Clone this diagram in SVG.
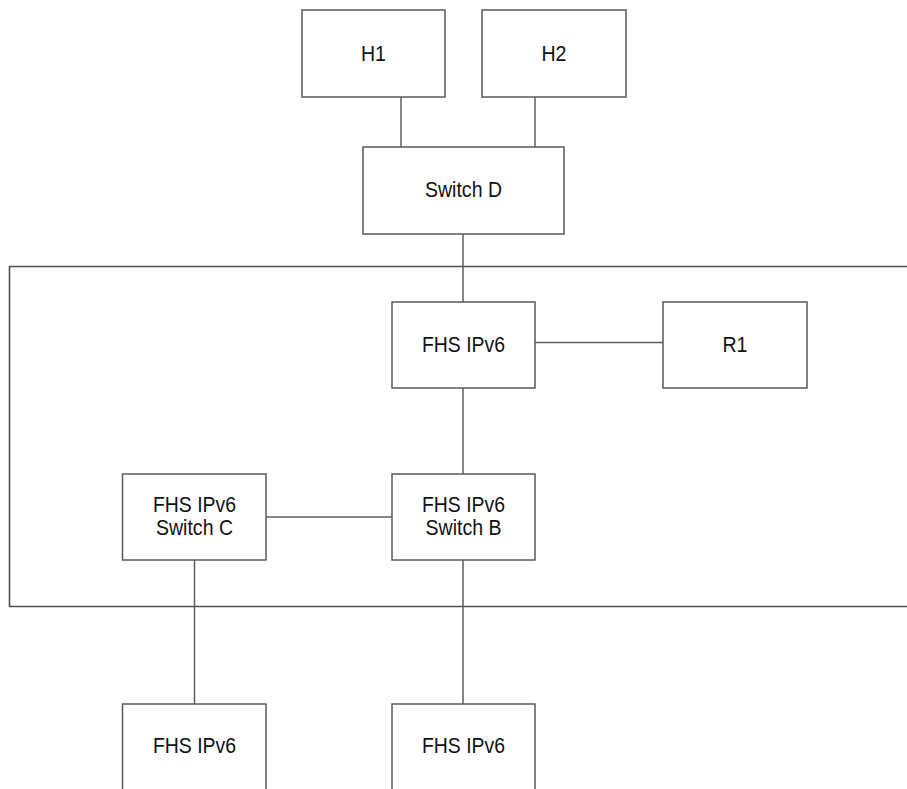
<svg xmlns="http://www.w3.org/2000/svg" width="907" height="789" viewBox="0 0 907 789">
  <style>
    .box { fill: #ffffff; stroke: #5a5a5a; stroke-width: 1.5; }
    .link { fill: none; stroke: #5e5e5e; stroke-width: 1.5; }
    .zone { fill: none; stroke: #505050; stroke-width: 1.6; }
    .label { font-family: "Liberation Sans", Arial, Helvetica, sans-serif; font-size: 22px; fill: #111111; text-anchor: middle; }
  </style>
  <rect width="907" height="789" fill="#ffffff"/>

  <!-- FHS domain boundary (open on the right) -->
  <path id="fhs-domain" class="zone" d="M 915 266.5 L 9.5 266.5 L 9.5 606.5 L 915 606.5"/>

  <!-- connectors -->
  <g id="connectors">
    <line class="link" x1="401" y1="97" x2="401" y2="147"/>
    <line class="link" x1="535" y1="97" x2="535" y2="147"/>
    <line class="link" x1="463" y1="234" x2="463" y2="302"/>
    <line class="link" x1="535" y1="342.5" x2="663" y2="342.5"/>
    <line class="link" x1="463" y1="388" x2="463" y2="474"/>
    <line class="link" x1="266" y1="517" x2="392" y2="517"/>
    <line class="link" x1="194.5" y1="560" x2="194.5" y2="704"/>
    <line class="link" x1="463" y1="560" x2="463" y2="704"/>
  </g>

  <!-- labels use a narrow set width (textLength) -->
  <g id="h1">
    <rect class="box" x="302" y="10" width="143" height="87"/>
    <text class="label" x="373.5" y="61" textLength="25" lengthAdjust="spacingAndGlyphs">H1</text>
  </g>
  <g id="h2">
    <rect class="box" x="482" y="10" width="144" height="87"/>
    <text class="label" x="554" y="61" textLength="25" lengthAdjust="spacingAndGlyphs">H2</text>
  </g>
  <g id="switch-d">
    <rect class="box" x="363" y="147" width="201" height="87"/>
    <text class="label" x="463.5" y="197" textLength="77" lengthAdjust="spacingAndGlyphs">Switch D</text>
  </g>
  <g id="fhs-top">
    <rect class="box" x="392" y="302" width="143" height="86"/>
    <text class="label" x="463.5" y="352" textLength="83" lengthAdjust="spacingAndGlyphs">FHS IPv6</text>
  </g>
  <g id="r1">
    <rect class="box" x="663" y="302" width="144" height="86"/>
    <text class="label" x="735" y="352" textLength="25" lengthAdjust="spacingAndGlyphs">R1</text>
  </g>
  <g id="switch-c">
    <rect class="box" x="122.5" y="474" width="143.5" height="86"/>
    <text class="label" x="194.5" y="511.5" textLength="83" lengthAdjust="spacingAndGlyphs">FHS IPv6</text>
    <text class="label" x="194.5" y="535" textLength="77" lengthAdjust="spacingAndGlyphs">Switch C</text>
  </g>
  <g id="switch-b">
    <rect class="box" x="392" y="474" width="143" height="86"/>
    <text class="label" x="463.5" y="511.5" textLength="83" lengthAdjust="spacingAndGlyphs">FHS IPv6</text>
    <text class="label" x="463.5" y="535" textLength="76" lengthAdjust="spacingAndGlyphs">Switch B</text>
  </g>
  <g id="fhs-bottom-left">
    <rect class="box" x="122.5" y="704" width="143.5" height="100"/>
    <text class="label" x="194.5" y="753" textLength="83" lengthAdjust="spacingAndGlyphs">FHS IPv6</text>
  </g>
  <g id="fhs-bottom-right">
    <rect class="box" x="392" y="704" width="143" height="100"/>
    <text class="label" x="463.5" y="753" textLength="83" lengthAdjust="spacingAndGlyphs">FHS IPv6</text>
  </g>
</svg>
